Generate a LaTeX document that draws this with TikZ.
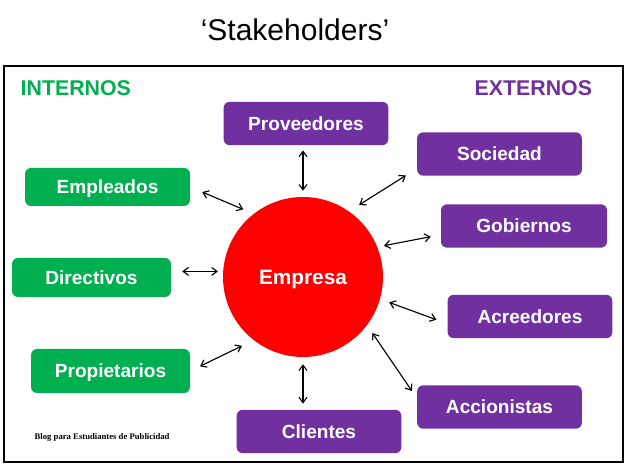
\documentclass[tikz,border=0pt]{standalone}
\usepackage{xcolor}
\usepackage{fontspec}
\setmainfont{Liberation Sans}
\newfontfamily\blogfont{Liberation Serif}
\usetikzlibrary{arrows.meta}
\definecolor{intgreen}{HTML}{00B050}
\definecolor{extpurple}{HTML}{7030A0}

\begin{document}
\begin{tikzpicture}[
    x=0.75pt, y=-0.75pt,
    inbox/.style={fill=intgreen, rounded corners=4.5pt, inner sep=0pt, text depth=0pt, minimum width=120pt, minimum height=30pt, text=white, font=\fontsize{14.3}{16}\selectfont\bfseries},
    outbox/.style={fill=extpurple, rounded corners=4.5pt, inner sep=0pt, text depth=0pt, minimum width=123.5pt, minimum height=32.5pt, text=white, font=\fontsize{14.3}{16}\selectfont\bfseries},
    arrow/.style={<->, line width=0.85pt, >={Straight Barb[length=4pt,width=6pt]}}
]
    \useasboundingbox (0,0) rectangle (625,466);
    \node (title) at (295,30) {\fontsize{22.5}{26}\selectfont ‘Stakeholders’};
    \draw[line width=1.5pt] (3.5,66.5) rectangle (623,462);

    \node[anchor=west, text=intgreen, font=\fontsize{16}{19}\selectfont\bfseries] (internos) at (16,88) {INTERNOS};
    \node[anchor=west, text=extpurple, font=\fontsize{16}{19}\selectfont\bfseries] (externos) at (470,88) {EXTERNOS};
    \node[anchor=west, font=\blogfont\fontsize{6.5}{8}\selectfont\bfseries] (blog) at (30,437) {Blog para Estudiantes de Publicidad};

    \node[circle, fill=red, inner sep=0pt, text depth=0pt, minimum size=120pt, text=white, font=\fontsize{15.6}{18}\selectfont\bfseries] (emp) at (303,277) {Empresa};

    \node[inbox, minimum width=123.75pt, minimum height=28.5pt] (empl) at (107.5,187) {Empleados};
    \node[inbox, minimum width=119.25pt, minimum height=29.25pt] (dir) at (91.5,277.5) {Directivos};
    \node[inbox, minimum width=119.25pt, minimum height=33pt] (prop) at (110.5,371) {Propietarios};

    \node[outbox] (prov) at (306,123.5) {Proveedores};
    \node[outbox] (soc) at (499.5,154) {Sociedad};
    \node[outbox, minimum width=124.5pt] (gob) at (524,226) {Gobiernos};
    \node[outbox] (acr) at (530,316.5) {Acreedores};
    \node[outbox] (acc) at (499.5,407) {Accionistas};
    \node[outbox] (cli) at (319,431.5) {Clientes};

    \draw[arrow, shorten <=4.5pt, shorten >=3.75pt] (emp.north) -- (emp.north |- prov.south);
    \draw[arrow, shorten <=9pt, shorten >=9.75pt] (emp.55) -- (soc.190);
    \draw[arrow, shorten <=5pt, shorten >=7.6pt] (emp.22) -- (gob.186);
    \draw[arrow, shorten <=7.2pt, shorten >=8.8pt] (emp.-16) -- (acr.185);
    \draw[arrow, shorten <=7pt, shorten >=6.6pt] (emp.-37) -- (acc.174);
    \draw[arrow, shorten <=5.25pt, shorten >=4.5pt] (emp.south) -- (emp.south |- cli.north);
    \draw[arrow, shorten <=9.7pt, shorten >=8.1pt] (emp.232) -- (prop.east);
    \draw[arrow, shorten <=3.75pt, shorten >=8.25pt] (emp.176) -- (emp.176 -| dir.east);
    \draw[arrow, shorten <=8.4pt, shorten >=9.75pt] (emp.128) -- (empl.east);
\end{tikzpicture}
\end{document}
